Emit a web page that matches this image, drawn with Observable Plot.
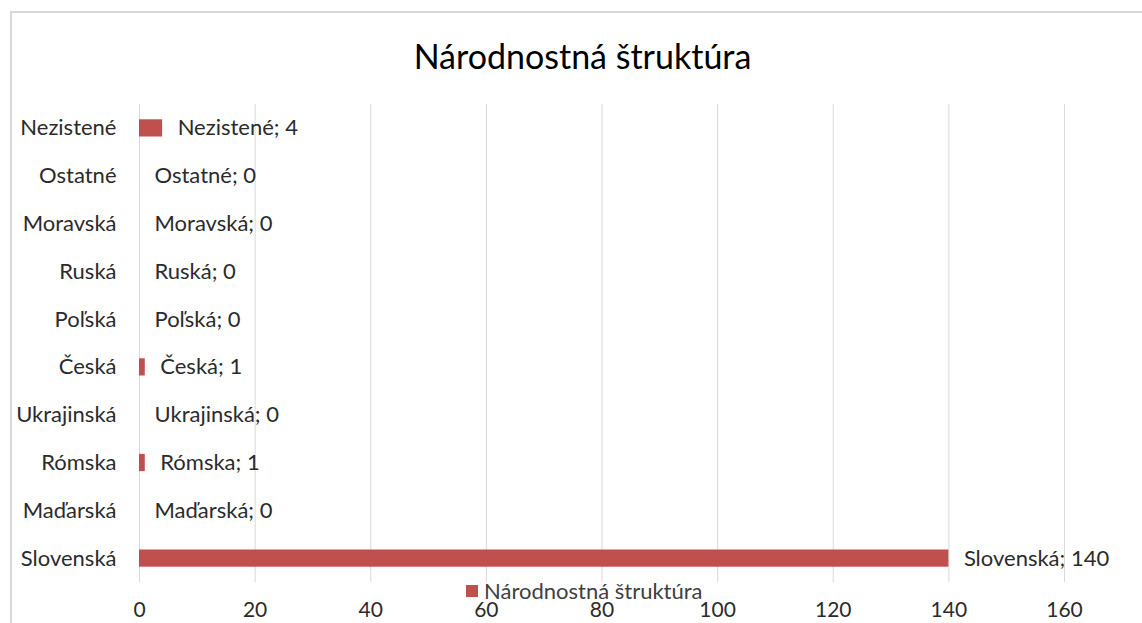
<!DOCTYPE html>
<html>
<head>
<meta charset="utf-8">
<script src="https://cdn.jsdelivr.net/npm/d3@7"></script>
<script src="https://cdn.jsdelivr.net/npm/@observablehq/plot@0.6"></script>
<style>
  html, body { margin: 0; padding: 0; background: #fff; }
  body { width: 1142px; height: 623px; position: relative; overflow: hidden; font-family: Lato, "Open Sans", sans-serif; }
  #frame { position: absolute; left: 10px; top: 11px; width: 1140px; height: 620px; border-top: 2px solid #d9d9d9; border-left: 2px solid #d9d9d9; }
  #title { position: absolute; left: 0; width: 1165px; top: 36px; text-align: center; font-size: 34px; line-height: 40px; color: #000; }
  #chart { position: absolute; left: 0; top: 0; }
  #legend { position: absolute; left: 466px; top: 578px; font-size: 22px; line-height: 26px; color: #404040; display: flex; align-items: center; }
  #legend span.sw { width: 12px; height: 12px; background: #c0504d; display: inline-block; margin-right: 6px; }
</style>
</head>
<body>
<div id="frame"></div>
<div id="title">Národnostná štruktúra</div>
<div id="chart"></div>
<div id="legend"><span class="sw"></span><span>Národnostná štruktúra</span></div>
<script>
const categories = ["Slovenská", "Maďarská", "Rómska", "Ukrajinská", "Česká", "Poľská", "Ruská", "Moravská", "Ostatné", "Nezistené"];
const values = [140, 0, 1, 0, 1, 0, 0, 0, 0, 4];
const xTicks = [0, 20, 40, 60, 80, 100, 120, 140, 160];

const data = categories.map((c, i) => ({category: c, value: values[i]}));
const yDomain = categories.slice().reverse();

const chart = Plot.plot({
  width: 1142,
  height: 623,
  marginTop: 104,
  marginBottom: 41,
  marginLeft: 139,
  marginRight: 78,
  style: {fontFamily: "Lato, 'Open Sans', sans-serif", fontSize: "22px", background: "transparent", color: "#2b2b2b"},
  x: {domain: [0, 160], ticks: xTicks, label: null},
  y: {domain: yDomain, paddingInner: 0.64, paddingOuter: 0.32, round: false, label: null},
  marks: [
    Plot.gridX(xTicks, {stroke: "#d9d9d9", strokeOpacity: 1, strokeWidth: 1}),
    Plot.barX(data, {x: "value", y: "category", fill: "#c0504d"}),
    Plot.text(data, {x: "value", y: "category", text: d => `${d.category}; ${d.value}`, textAnchor: "start", dx: 15, fontSize: 22, fill: "#2b2b2b"}),
    Plot.axisX({ticks: xTicks, tickSize: 0, tickPadding: 20, fontSize: 21, label: null}),
    Plot.axisY({tickSize: 0, tickPadding: 23, fontSize: 22, label: null})
  ]
});
document.getElementById("chart").appendChild(chart);
</script>
</body>
</html>
